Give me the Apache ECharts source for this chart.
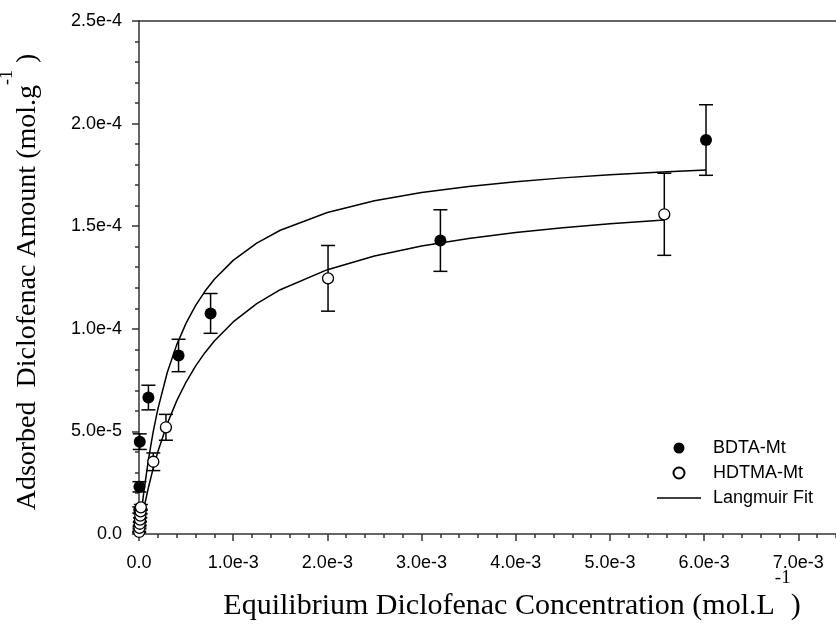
<!DOCTYPE html>
<html>
<head>
<meta charset="utf-8">
<script src="https://cdn.jsdelivr.net/npm/echarts@6/dist/echarts.min.js"></script>
<style>
html,body{margin:0;padding:0;background:#fff;}
#c{width:836px;height:631px;}
</style>
</head>
<body>
<div id="c"></div>
<script>
// ---- data ----
const xTickLabels = ['0.0','1.0e-3','2.0e-3','3.0e-3','4.0e-3','5.0e-3','6.0e-3','7.0e-3'];
const yTickLabels = ['0.0','5.0e-5','1.0e-4','1.5e-4','2.0e-4','2.5e-4'];

const bdtaX   = [3e-6, 5e-6, 8e-6, 1.0e-4, 4.2e-4, 7.6e-4, 3.2e-3, 6.02e-3];
const bdtaY   = [1.17e-5, 2.3e-5, 4.5e-5, 6.65e-5, 8.7e-5, 1.075e-4, 1.43e-4, 1.92e-4];
const bdtaErr = [1.5e-6, 2.5e-6, 3.8e-6, 6.0e-6, 7.9e-6, 9.7e-6, 1.5e-5, 1.72e-5];

const hdtmaX   = [2e-6, 5e-6, 8e-6, 1.1e-5, 1.4e-5, 1.7e-5, 2.0e-5, 1.52e-4, 2.86e-4, 2.007e-3, 5.577e-3];
const hdtmaY   = [1e-6, 3e-6, 5e-6, 7e-6, 9e-6, 1.1e-5, 1.3e-5, 3.52e-5, 5.2e-5, 1.246e-4, 1.558e-4];
const hdtmaErr = [3e-7, 5e-7, 7e-7, 8e-7, 1e-6, 1.2e-6, 1.4e-6, 4.3e-6, 6.3e-6, 1.6e-5, 2.0e-5];

const fitBX = [0, 2e-5, 5e-5, 1e-4, 1.5e-4, 2e-4, 3e-4, 4e-4, 5e-4, 6e-4, 7e-4, 8e-4, 1e-3, 1.25e-3, 1.5e-3, 2e-3, 2.5e-3, 3e-3, 3.5e-3, 4e-3, 4.5e-3, 5e-3, 5.5e-3, 6.02e-3];
const fitBY = [0, 8.55e-6, 2.003e-5, 3.623e-5, 4.962e-5, 6.086e-5, 7.868e-5, 9.217e-5, 1.0275e-4, 1.1126e-4, 1.1826e-4, 1.2411e-4, 1.3335e-4, 1.4179e-4, 1.4804e-4, 1.5668e-4, 1.6236e-4, 1.6638e-4, 1.6938e-4, 1.7170e-4, 1.7355e-4, 1.7505e-4, 1.7631e-4, 1.7740e-4];

const fitHX = [0, 2e-5, 5e-5, 1e-4, 1.5e-4, 2e-4, 3e-4, 4e-4, 5e-4, 6e-4, 7e-4, 8e-4, 1e-3, 1.25e-3, 1.5e-3, 2e-3, 2.5e-3, 3e-3, 3.5e-3, 4e-3, 4.5e-3, 5e-3, 5.577e-3];
const fitHY = [0, 5.07e-6, 1.214e-5, 2.267e-5, 3.189e-5, 4.003e-5, 5.375e-5, 6.487e-5, 7.406e-5, 8.179e-5, 8.837e-5, 9.405e-5, 1.0335e-4, 1.1223e-4, 1.1904e-4, 1.2882e-4, 1.3550e-4, 1.4035e-4, 1.4403e-4, 1.4693e-4, 1.4925e-4, 1.5117e-4, 1.5301e-4];

// ---- chart ----
const zip2 = (a, b) => a.map((v, i) => [v, b[i]]);
const zip3 = (a, b, c) => a.map((v, i) => [v, b[i], c[i]]);

const AXC = '#333';
const SANS = "'Liberation Sans', Arial, sans-serif";
const SERIF = "'Liberation Serif', 'Times New Roman', serif";
const XMAX = 7.4e-3;

function errRender(params, api) {
  const x = api.value(0), y = api.value(1), e = api.value(2);
  const t = api.coord([x, y + e]);
  const b = api.coord([x, y - e]);
  const hw = 7;
  const st = { stroke: '#000', lineWidth: 1.5 };
  return {
    type: 'group',
    children: [
      { type: 'line', shape: { x1: t[0], y1: t[1], x2: b[0], y2: b[1] }, style: st },
      { type: 'line', shape: { x1: t[0] - hw, y1: t[1], x2: t[0] + hw, y2: t[1] }, style: st },
      { type: 'line', shape: { x1: b[0] - hw, y1: b[1], x2: b[0] + hw, y2: b[1] }, style: st }
    ]
  };
}

const chart = echarts.init(document.getElementById('c'), null, { renderer: 'canvas' });
chart.setOption({
  animation: false,
  backgroundColor: '#fff',
  grid: { left: 139, top: 21, width: 698, height: 513 },
  xAxis: [
    {
      type: 'value', min: 0, max: XMAX, interval: 1e-3, position: 'bottom',
      axisLine: { show: true, lineStyle: { color: AXC, width: 1.5 } },
      axisTick: { show: true, length: 7, lineStyle: { color: AXC, width: 1.5 } },
      axisLabel: {
        show: true, margin: 20, color: '#000', fontFamily: SANS, fontSize: 18,
        showMaxLabel: false,
        formatter: v => { const i = Math.round(v / 1e-3); return Math.abs(v - i * 1e-3) < 1e-9 ? (xTickLabels[i] || '') : ''; }
      },
      splitLine: { show: false }
    },
    {
      type: 'value', min: 0, max: XMAX, interval: 2e-4, position: 'bottom',
      axisLine: { show: false },
      axisTick: { show: true, length: 4, lineStyle: { color: AXC, width: 1.5 } },
      axisLabel: { show: false },
      splitLine: { show: false }
    },
    {
      type: 'value', min: 0, max: XMAX, position: 'top',
      axisLine: { show: true, lineStyle: { color: AXC, width: 1.5 } },
      axisTick: { show: false }, axisLabel: { show: false }, splitLine: { show: false }
    }
  ],
  yAxis: [{
    type: 'value', min: 0, max: 2.5e-4, interval: 5e-5,
    axisLine: { show: true, lineStyle: { color: AXC, width: 1.5 } },
    axisTick: { show: true, length: 7, lineStyle: { color: AXC, width: 1.5 } },
    minorTick: { show: true, splitNumber: 5, length: 4, lineStyle: { color: AXC, width: 1.5 } },
    axisLabel: {
      margin: 17, color: '#000', fontFamily: SANS, fontSize: 18,
      formatter: v => yTickLabels[Math.round(v / 5e-5)] || ''
    },
    splitLine: { show: false }
  }],
  legend: {
    orient: 'vertical', left: 652, top: 434, padding: 5,
    itemWidth: 44, itemHeight: 11, itemGap: 7,
    selectedMode: false,
    data: [
      'BDTA-Mt',
      'HDTMA-Mt',
      { name: 'Langmuir Fit', icon: 'path://M0,0H44V1.5H0Z', itemStyle: { color: '#000', borderWidth: 0 } }
    ],
    textStyle: { fontFamily: SANS, fontSize: 18, color: '#000', lineHeight: 18, padding: [0, 0, 0, 7] }
  },
  graphic: [
    {
      type: 'text', x: 512, y: 606,
      style: {
        text: '{a|Equilibrium Diclofenac Concentration (mol.L}{s|-1}{a|)}',
        align: 'center', verticalAlign: 'middle',
        rich: {
          a: { fontFamily: SERIF, fontSize: 30, fill: '#000' },
          s: { fontFamily: SERIF, fontSize: 19, fill: '#000', padding: [0, 0, 56, 0] }
        }
      }
    },
    {
      type: 'text', x: 28, y: 282, rotation: Math.PI / 2,
      style: {
        text: '{a|Adsorbed  Diclofenac Amount (mol.g}{s|-1}{a| )}',
        align: 'center', verticalAlign: 'middle',
        rich: {
          a: { fontFamily: SERIF, fontSize: 28, fill: '#000' },
          s: { fontFamily: SERIF, fontSize: 18, fill: '#000', padding: [0, 0, 42, 0] }
        }
      }
    }
  ],
  series: [
    { name: 'Langmuir Fit', type: 'line', data: zip2(fitBX, fitBY), symbol: 'none', showSymbol: false,
      lineStyle: { color: '#000', width: 1.5 }, itemStyle: { color: '#000' }, z: 2 },
    { name: 'Langmuir Fit', type: 'line', data: zip2(fitHX, fitHY), symbol: 'none', showSymbol: false,
      lineStyle: { color: '#000', width: 1.5 }, itemStyle: { color: '#000' }, z: 2 },
    { name: 'errB', type: 'custom', renderItem: errRender, data: zip3(bdtaX, bdtaY, bdtaErr), encode: { x: 0, y: 1 }, z: 3 },
    { name: 'errH', type: 'custom', renderItem: errRender, data: zip3(hdtmaX, hdtmaY, hdtmaErr), encode: { x: 0, y: 1 }, z: 3 },
    { name: 'BDTA-Mt', type: 'scatter', data: zip2(bdtaX, bdtaY), symbol: 'circle', symbolSize: 12,
      itemStyle: { color: '#000', opacity: 1 }, z: 5 },
    { name: 'HDTMA-Mt', type: 'scatter', data: zip2(hdtmaX, hdtmaY), symbol: 'circle', symbolSize: 11,
      itemStyle: { color: '#fff', borderColor: '#000', borderWidth: 1.3, opacity: 1 }, z: 5 }
  ]
});
</script>
</body>
</html>
